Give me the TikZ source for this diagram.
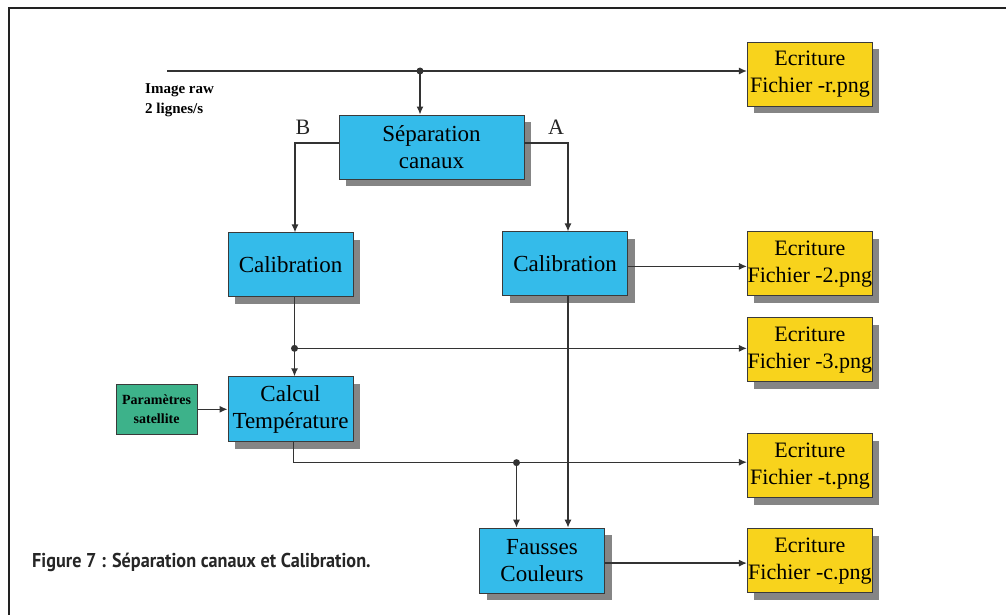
\documentclass[tikz,border=0pt]{standalone}
\usepackage{fontspec}
\setmainfont{Liberation Serif}
\newfontfamily\capfont{PT Sans}
\usepackage{graphicx}
\usepackage{xcolor}
\usepackage{tikz}
\usetikzlibrary{arrows.meta,positioning,calc,shadows}
\definecolor{procblue}{HTML}{34BBEA}
\definecolor{fileyellow}{HTML}{F8D31C}
\definecolor{paramgreen}{HTML}{3DB28A}
\definecolor{border}{HTML}{3A3A3A}
\definecolor{wire}{HTML}{333333}
\definecolor{shade}{HTML}{858585}
\definecolor{framegray}{HTML}{222222}
\tikzset{
  plainbox/.style={
    draw=border, fill=#1, line width=0.9pt,
    align=center, inner sep=0pt,
  },
  mynode/.style={
    plainbox=#1,
    drop shadow={shadow xshift=7pt, shadow yshift=-7pt, fill=shade, opacity=1},
  },
  proc/.style={mynode=procblue, minimum width=125pt, minimum height=64pt,
    font=\fontsize{23}{27}\selectfont},
  wfile/.style={mynode=fileyellow, minimum width=125pt, minimum height=64pt,
    font=\fontsize{22}{27}\selectfont},
  arrow/.style={-{Latex[length=8pt, width=7pt]}, line width=1.3pt, color=wire},
  junction/.style={fill=wire},
  chan/.style={font=\fontsize{22}{22}\selectfont, color=black!85, inner sep=0pt},
}

\begin{document}
\begin{tikzpicture}[x=1pt, y=-1pt]

  \useasboundingbox (0,0) rectangle (1006,615);
  \draw[line width=2.5pt, color=framegray] (9,615) -- (9,8) -- (1006,8);

  % processing chain
  \node[proc, minimum width=185pt] (sep) at (431.5,147) {Séparation\\canaux};

  \node[proc, below=53pt of sep, xshift=-141pt] (calB) {Calibration};
  \node[proc, below=52pt of sep, xshift=133.5pt] (calA) {Calibration};

  \node[proc, minimum height=65pt, below=79pt of calB] (calc) {Calcul\\Température};

  \node[plainbox=paramgreen, minimum width=81pt, minimum height=50pt,
        font=\bfseries\fontsize{14}{19}\selectfont,
        left=30pt of calc] (param) {Paramètres\\satellite};

  % output files
  \node[wfile, right=119pt of calA] (w2) {Ecriture\\Fichier -2.png};
  \node[wfile, above=125pt of w2] (wr) {Ecriture\\Fichier -r.png};
  \node[wfile, below=21pt of w2] (w3) {Ecriture\\Fichier -3.png};
  \node[wfile, below=51pt of w3] (wt) {Ecriture\\Fichier -t.png};
  \node[wfile, below=30pt of wt] (wc) {Ecriture\\Fichier -c.png};

  \node[proc, minimum height=65pt, left=142pt of wc] (fc) {Fausses\\Couleurs};

  % labels
  \node[anchor=west, align=left, inner sep=0pt,
        font=\bfseries\fontsize{15}{20}\selectfont] (raw) at (145,100)
    {Image raw\\2 lignes/s};
  \node[chan] (labB) at (303,127) {B};
  \node[chan] (labA) at (556,127) {A};

  \node[anchor=west, inner sep=0pt, color=black!85,
        font=\capfont\bfseries\fontsize{20}{20}\selectfont] (caption) at (32,562)
    {\scalebox{0.91}[1]{Figure 7 : Séparation canaux et Calibration.}};

  % junctions
  \coordinate (rawin) at (167,71);
  \coordinate (jraw) at (420,71);
  \coordinate (jB) at ($(calB.south)+(4,51)$);
  \coordinate (jT) at ($(fc.north)+(-25.5,-65)$);

  \draw[arrow] (rawin) -- (rawin -| wr.west);
  \draw[arrow] (jraw) -- (jraw |- sep.north);
  \draw[arrow] ([yshift=4pt]sep.west) -| ([xshift=4.5pt]calB.north);
  \draw[arrow] ([yshift=4pt]sep.east) -| ([xshift=3pt]calA.north);
  \draw[arrow] ([yshift=-2.5pt]calA.east) -- ([yshift=-2.5pt]calA.east -| w2.west);
  \draw[arrow] ([xshift=4pt]calB.south) -- ([xshift=4pt]calc.north);
  \draw[arrow] (jB) -- (jB -| w3.west);
  \draw[arrow] ([xshift=3pt]calA.south) -- ([xshift=3pt]calA.south |- fc.north);
  \draw[arrow] ([xshift=3pt]calc.south) |- ([yshift=3.5pt]wt.west);
  \draw[arrow] (jT) -- (jT |- fc.north);
  \draw[arrow] (param.east) -- (param.east -| calc.west);
  \draw[arrow] ([yshift=-2.5pt]fc.east) -- ([yshift=-2.5pt]fc.east -| wc.west);

  \fill[junction] (jraw) circle (3.5pt);
  \fill[junction] (jB) circle (3.5pt);
  \fill[junction] (jT) circle (3.5pt);

\end{tikzpicture}
\end{document}
